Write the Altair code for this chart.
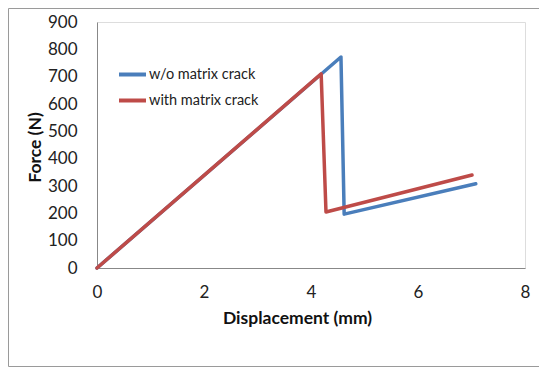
import altair as alt
import pandas as pd

series_names = ["w/o matrix crack", "with matrix crack"]
blue_x = [0.0, 4.56, 4.62, 7.08]
blue_y = [0, 772, 197, 308]
red_x = [0.0, 4.19, 4.28, 7.01]
red_y = [0, 710, 205, 340]

rows = []
for i, (x, y) in enumerate(zip(blue_x, blue_y)):
    rows.append({"series": series_names[0], "disp": x, "force": y, "idx": i})
for i, (x, y) in enumerate(zip(red_x, red_y)):
    rows.append({"series": series_names[1], "disp": x, "force": y, "idx": i})
df = pd.DataFrame(rows)

W, H = 428, 246
FONT = "Lato"

base = alt.Chart(df).mark_line(strokeWidth=3.5, strokeCap="round", strokeJoin="round").encode(
    x=alt.X("disp:Q", scale=alt.Scale(domain=[0, 8], nice=False),
            axis=alt.Axis(values=[0, 2, 4, 6, 8], title="Displacement (mm)", grid=False, ticks=False,
                          labelPadding=16, labelFontSize=17, labelFont=FONT, labelColor="#222",
                          titleFont=FONT, titleFontSize=17.5, titleFontWeight="bold", titleColor="#111",
                          titleX=200, titleY=50, titleBaseline="middle", titleAlign="center",
                          domainColor="#888", labelFlush=False)),
    y=alt.Y("force:Q", scale=alt.Scale(domain=[0, 900], nice=False),
            axis=alt.Axis(values=list(range(0, 901, 100)), title="Force (N)", grid=False, ticks=False,
                          labelPadding=20, labelFontSize=17, labelFont=FONT, labelColor="#222",
                          titleFont=FONT, titleFontSize=17.5, titleFontWeight="bold", titleColor="#111",
                          titleX=-62, titleY=125, titleAngle=-90, titleBaseline="middle", titleAlign="center",
                          domainColor="#888", labelFlush=False)),
    color=alt.Color("series:N", scale=alt.Scale(domain=series_names, range=["#4A7EBB", "#BE4B48"]),
                    legend=alt.Legend(title=None, orient="none", legendX=20, legendY=37,
                                      symbolType="stroke", symbolSize=729, symbolStrokeWidth=4,
                                      labelFont=FONT, labelFontSize=14.5, labelColor="#222",
                                      labelOffset=1, rowPadding=2)),
    order="idx:Q",
)

blue = base.transform_filter(alt.datum.series == series_names[0])
red = base.transform_filter(alt.datum.series == series_names[1])

frame = alt.Chart(pd.DataFrame({"a": [0]})).mark_rect(fill=None, stroke="#9a9a9a", strokeWidth=1).encode(
    x=alt.value(-88.5), x2=alt.value(460), y=alt.value(-13.5), y2=alt.value(344.5)
)

chart = alt.layer(frame, blue, red).properties(
    width=W, height=H,
    autosize=alt.AutoSizeParams(type="none"),
    padding={"left": 89, "top": 14, "right": 14, "bottom": 100},
).configure_view(stroke=None).configure(background="white")

chart.save("out.html", embed_options={"renderer": "svg", "actions": False})
